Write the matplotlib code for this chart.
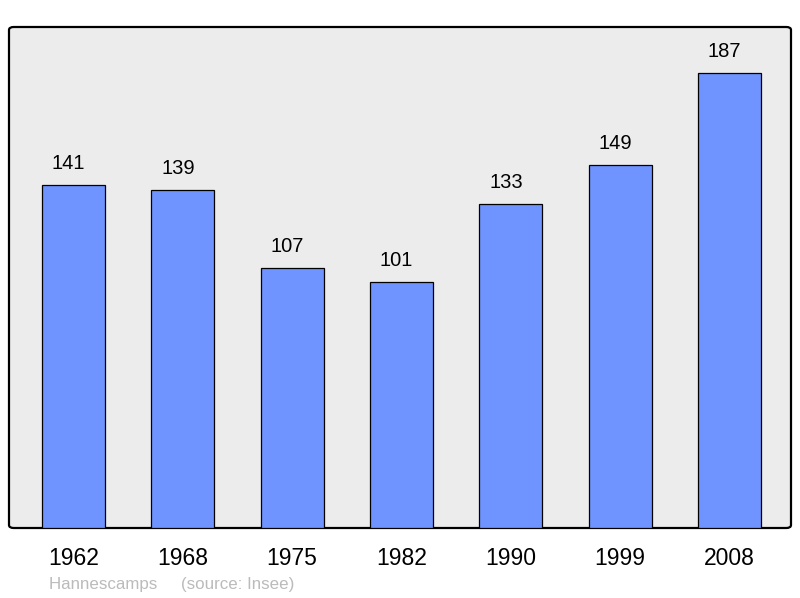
import matplotlib
matplotlib.use("Agg")
import matplotlib.pyplot as plt
from matplotlib.patches import FancyBboxPatch

years = ["1962", "1968", "1975", "1982", "1990", "1999", "2008"]
population = [141, 139, 107, 101, 133, 149, 187]
commune = "Hannescamps"
source = "(source: Insee)"

plt.rcParams['font.family'] = ['Liberation Sans', 'DejaVu Sans']

fig = plt.figure(figsize=(8, 5.98), dpi=100)
ax = fig.add_axes([9/800, 1-528/598, 782/800, 501/598])
ax.set_facecolor('none')

bg = FancyBboxPatch((0, 0), 1, 1, boxstyle="round,pad=0,rounding_size=0.006",
                    transform=ax.transAxes, facecolor='#ececec', edgecolor='black',
                    linewidth=1.6, zorder=0, clip_on=False)
ax.add_patch(bg)

x = list(range(len(years)))
bars = ax.bar(x, population, width=0.576, color='#7094ff', edgecolor='black',
              linewidth=0.9, zorder=2)
for xi, v in zip(x, population):
    ax.annotate(str(v), (xi, v), xytext=(-3.6, 11.5), textcoords='offset points',
                ha='center', va='baseline', fontsize=14.5, color='black')

ax.set_xlim(-0.59, 6.5625)
ax.set_ylim(0, 205.9)
ax.set_yticks([])
ax.set_xticks(x)
ax.set_xticklabels(years, fontsize=16.5, color='black')
ax.tick_params(axis='x', length=0, pad=13.5)
for s in ax.spines.values():
    s.set_visible(False)

fig.text(49/800, 1-589/598, commune + "     " + source, fontsize=12.2,
         color='#bbbbbb', ha='left', va='baseline')

fig.savefig("out.png", dpi=100)
